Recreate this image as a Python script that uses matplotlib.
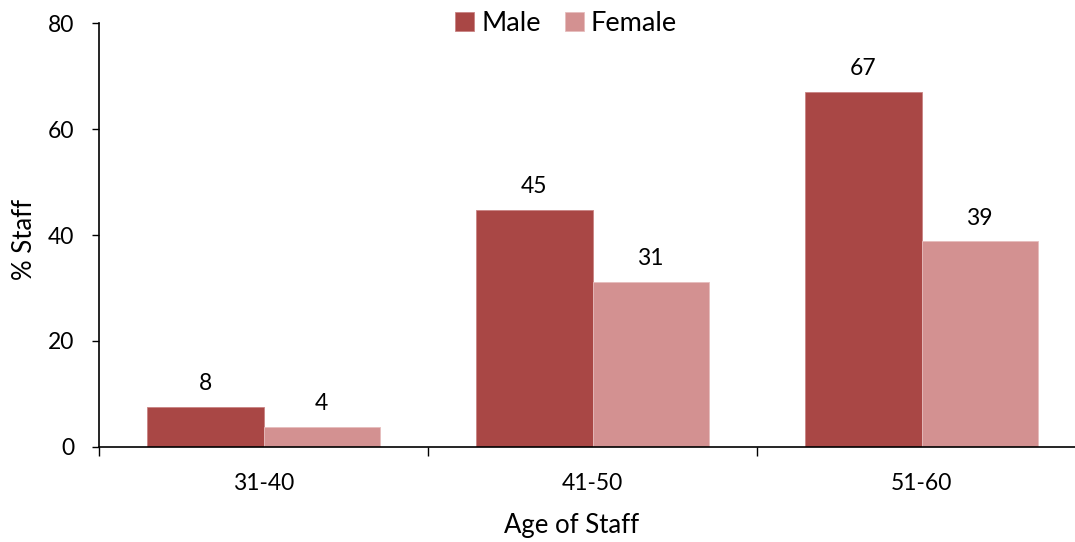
import numpy as np
import matplotlib.pyplot as plt

age_groups = ['31-40', '41-50', '51-60']
male = [7.5, 44.8, 67.0]
female = [3.8, 31.2, 38.8]

male_color = '#A94745'
female_color = '#D39191'

plt.rcParams['font.family'] = ['Lato', 'DejaVu Sans']
plt.rcParams['font.size'] = 16

fig = plt.figure(figsize=(10.75, 5.42), dpi=100)
ax = fig.add_axes([99/1075, 1 - 446.7/542, 987/1075, 423.4/542])

x = np.arange(len(age_groups))
width = 0.353
b1 = ax.bar(x - width/2, male, width, color=male_color, edgecolor='#C98484', linewidth=0.6, label='Male')
b2 = ax.bar(x + width/2, female, width, color=female_color, edgecolor='#E6BDBD', linewidth=0.6, label='Female')

for bars, vals in [(b1, male), (b2, female)]:
    for rect, v in zip(bars, vals):
        ax.annotate(f'{v:.0f}', (rect.get_x() + rect.get_width()/2, v),
                    xytext=(0, 12), textcoords='offset points',
                    ha='center', va='baseline', fontsize=16.5)

ax.set_xlim(-0.5, 2.5)
ax.set_ylim(0, 80)
ax.set_yticks([0, 20, 40, 60, 80])

# category boundaries get the tick marks, labels sit between them
ax.set_xticks([-0.5, 0.5, 1.5, 2.5])
ax.set_xticklabels([])
ax.set_xticks(x, minor=True)
ax.set_xticklabels(age_groups, minor=True, fontsize=16.5)
ax.tick_params(axis='x', which='major', direction='out', length=6.5, width=1)
ax.tick_params(axis='x', which='minor', length=0, pad=19)
ax.tick_params(axis='y', direction='out', length=5, width=1, pad=13, labelsize=16.5)

for s in ['top', 'right']:
    ax.spines[s].set_visible(False)
ax.spines['left'].set_linewidth(1.2)
ax.spines['bottom'].set_linewidth(1.2)

ax.set_ylabel('% Staff', fontsize=18.5)
ax.yaxis.set_label_coords(-0.063, 0.49)
ax.set_xlabel('Age of Staff', fontsize=18.5)
ax.xaxis.set_label_coords(0.479, -0.157)

fig.legend(loc='center', bbox_to_anchor=(566/1075, 1 - 23/542), ncol=2, frameon=False,
           handlelength=0.7, handleheight=0.7, handletextpad=0.25, columnspacing=0.9,
           fontsize=19.5)

fig.savefig('out.png', dpi=100)
